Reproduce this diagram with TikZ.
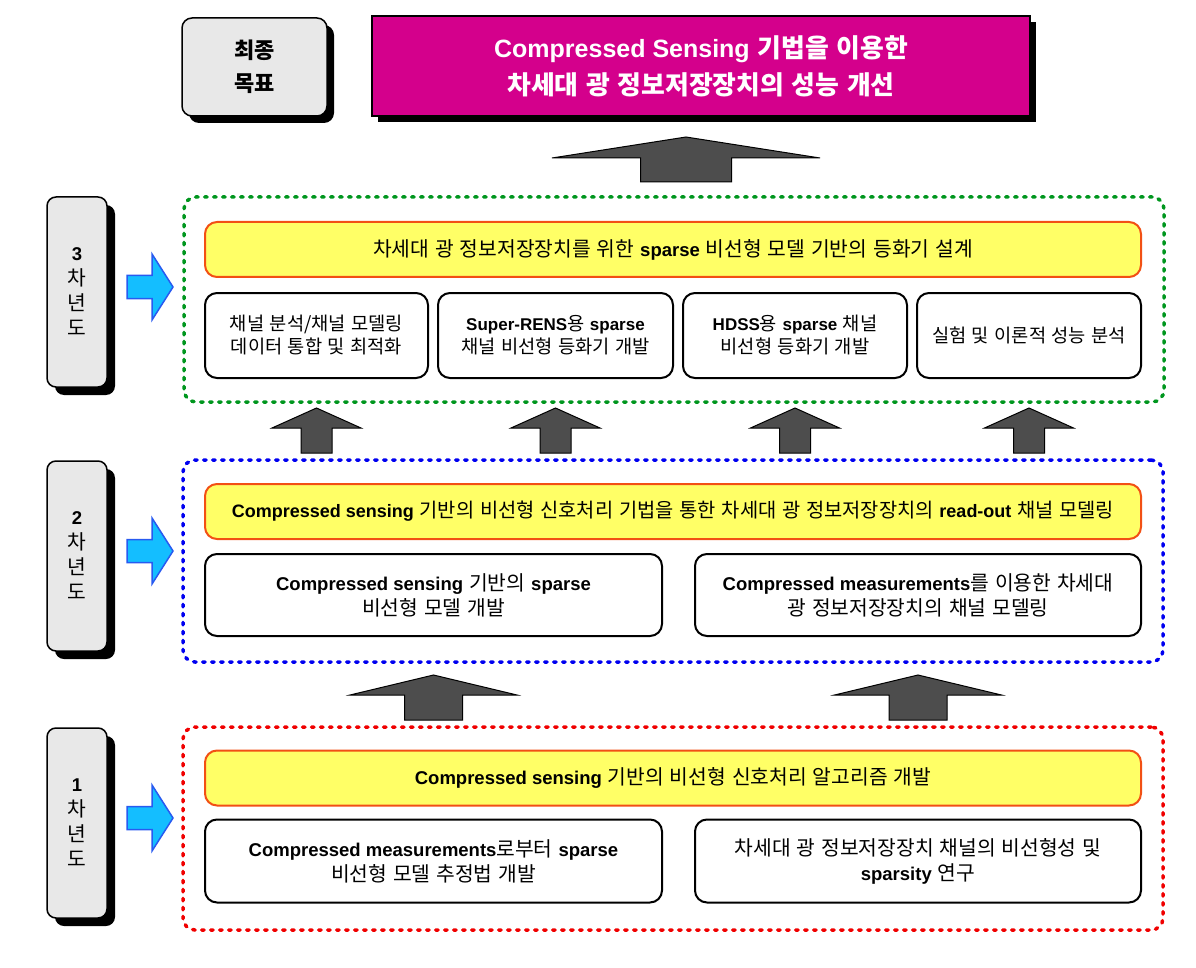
\documentclass[tikz,border=0pt]{standalone}
\usepackage{fontspec}
\setmainfont{Noto Sans CJK KR}[Scale=1.1,WordSpace=1.3]
\newfontfamily\latfont{Liberation Sans}
\usetikzlibrary{positioning,shadows,calc}

\definecolor{goalmagenta}{RGB}{212,0,140}
\definecolor{sidegray}{RGB}{232,232,232}
\definecolor{barfill}{RGB}{255,255,102}
\definecolor{barline}{RGB}{242,80,20}
\definecolor{framegreen}{RGB}{0,150,30}
\definecolor{frameblue}{RGB}{0,0,240}
\definecolor{framered}{RGB}{240,0,0}
\definecolor{liftgray}{RGB}{77,77,77}
\definecolor{skyfill}{RGB}{20,190,255}
\definecolor{skyline}{RGB}{40,90,240}

\newcommand{\en}[1]{{\latfont\bfseries #1}}
% block arrow pointing up: base point, half shaft, half head, shaft length, head length
\newcommand{\liftarrow}[5]{%
  \filldraw[liftshape] (#1) ++(-#2,0) -- ++(0,-#4) -- ++({#2-#3},0) -- ++(#3,-#5)
    -- ++(#3,#5) -- ++({#2-#3},0) -- ++(0,#4) -- cycle;}
% block arrow pointing right, beside a year box
\newcommand{\sidearrow}[1]{%
  \filldraw[skyshape] ($(#1.east)+(20,-5)$) ++(0,-11.5) -- ++(25,0) -- ++(0,-21.5)
    -- ++(21,33) -- ++(-21,33) -- ++(0,-21.5) -- ++(-25,0) -- cycle;}

\tikzset{
  goalbox/.style={draw, line width=1.5pt, rounded corners=10pt, fill=sidegray,
    minimum width=145pt, minimum height=98pt, outer sep=0pt, align=center,
    font=\fontsize{20}{33}\selectfont\bfseries,
    drop shadow={shadow xshift=7pt,shadow yshift=-7pt,fill=black,opacity=1}},
  titlebox/.style={draw, line width=1.5pt, fill=goalmagenta, text=white,
    minimum width=658pt, minimum height=100pt, outer sep=0pt, align=center,
    font=\fontsize{23.5}{37}\selectfont\bfseries,
    drop shadow={shadow xshift=6pt,shadow yshift=-6pt,fill=black,opacity=1}},
  yearbox/.style={draw, line width=1.5pt, rounded corners=9pt, fill=sidegray,
    minimum width=60pt, minimum height=190pt, outer sep=0pt, align=center,
    font=\fontsize{18.5}{25}\selectfont,
    drop shadow={shadow xshift=8pt,shadow yshift=-8pt,fill=black,opacity=1}},
  yearframe/.style={draw=#1, line width=3.5pt, dash pattern=on 2.5pt off 6.5pt,
    line cap=round, rounded corners=12pt, minimum width=980pt, inner sep=0pt, outer sep=0pt},
  bar/.style={draw=barline, line width=2pt, fill=barfill, rounded corners=12pt,
    minimum width=936pt, minimum height=55pt, outer sep=0pt,
    font=\fontsize{18.5}{23}\selectfont},
  whitebox/.style={draw, line width=2pt, fill=white, rounded corners=12pt,
    outer sep=0pt, inner sep=0pt, align=center},
  smalltext/.style={font=\fontsize{17}{23}\selectfont},
  bigtext/.style={font=\fontsize{18.5}{25}\selectfont},
  liftshape/.style={fill=liftgray, draw=black, line width=1pt},
  skyshape/.style={fill=skyfill, draw=skyline, line width=1.5pt, line join=miter}
}

\begin{document}
\begin{tikzpicture}[x=1pt,y=-1pt]
\useasboundingbox (0,0) rectangle (1196,968);

% goal
\node[goalbox] (goal) at (254.5,67) {최종\\목표};
\node[titlebox] (title) at (701,66) {{\fontsize{25}{37}\selectfont\en{Compressed Sensing}} 기법을 이용한\\차세대 광 정보저장장치의 성능 개선};
\coordinate (topbase) at (686,182);
\liftarrow{topbase}{45.5}{134}{24}{21}

% frames
\node[yearframe=framegreen, minimum height=205pt] (frame3) at (674,299.5) {};
\node[yearframe=frameblue, minimum height=202pt] (frame2) at (673,561) {};
\node[yearframe=framered, minimum height=203pt] (frame1) at (673,828.5) {};

% year labels
\node[yearbox] (year3) at (77,292) {\en{3}\\차\\년\\도};
\node[yearbox] (year2) at (77,556) {\en{2}\\차\\년\\도};
\node[yearbox] (year1) at (77,823) {\en{1}\\차\\년\\도};
\sidearrow{year3}
\sidearrow{year2}
\sidearrow{year1}

% 3rd year
\node[bar] (bar3) at (673,249.5) {차세대 광 정보저장장치를 위한 \en{sparse} 비선형 모델 기반의 등화기 설계};
\node[whitebox, smalltext, minimum width=223pt, minimum height=85pt, below right=16pt and 0pt of bar3.south west] (b31) {채널 분석/채널 모델링\\데이터 통합 및 최적화};
\node[whitebox, smalltext, minimum width=235pt, minimum height=85pt, right=10pt of b31] (b32) {\en{Super-RENS}용 \en{sparse}\\채널 비선형 등화기 개발};
\node[whitebox, smalltext, minimum width=224pt, minimum height=85pt, right=10pt of b32] (b33) {\en{HDSS}용 \en{sparse} 채널\\비선형 등화기 개발};
\node[whitebox, smalltext, minimum width=224pt, minimum height=85pt, right=10pt of b33] (b34) {실험 및 이론적 성능 분석};

% 2nd year
\node[bar, font=\fontsize{18}{23}\selectfont] (bar2) at (673,511.5) {\en{Compressed sensing} 기반의 비선형 신호처리 기법을 통한 차세대 광 정보저장장치의 \en{read-out} 채널 모델링};
\node[whitebox, bigtext, minimum width=457pt, minimum height=82pt, below right=15pt and 0pt of bar2.south west] (b21) {\en{Compressed sensing} 기반의 \en{sparse}\\비선형 모델 개발};
\node[whitebox, bigtext, minimum width=446pt, minimum height=82pt, right=33pt of b21] (b22) {\en{Compressed measurements}를 이용한 차세대\\광 정보저장장치의 채널 모델링};

% 1st year
\node[bar] (bar1) at (673,778) {\en{Compressed sensing} 기반의 비선형 신호처리 알고리즘 개발};
\node[whitebox, bigtext, minimum width=457pt, minimum height=83pt, below right=14pt and 0pt of bar1.south west] (b11) {\en{Compressed measurements}로부터 \en{sparse}\\비선형 모델 추정법 개발};
\node[whitebox, bigtext, minimum width=446pt, minimum height=83pt, right=33pt of b11] (b12) {차세대 광 정보저장장치 채널의 비선형성 및\\\en{sparsity} 연구};

% arrows between years
\foreach \b in {b31,b32,b33,b34} {
  \coordinate (lift\b) at ($(frame2.north -| \b)+(0,-7)$);
  \liftarrow{lift\b}{15.5}{44.5}{25}{20}
}
\foreach \b in {b21,b22} {
  \coordinate (lift\b) at ($(frame1.north -| \b)+(0,-7)$);
  \liftarrow{lift\b}{29}{83.5}{25}{20}
}
\end{tikzpicture}
\end{document}
